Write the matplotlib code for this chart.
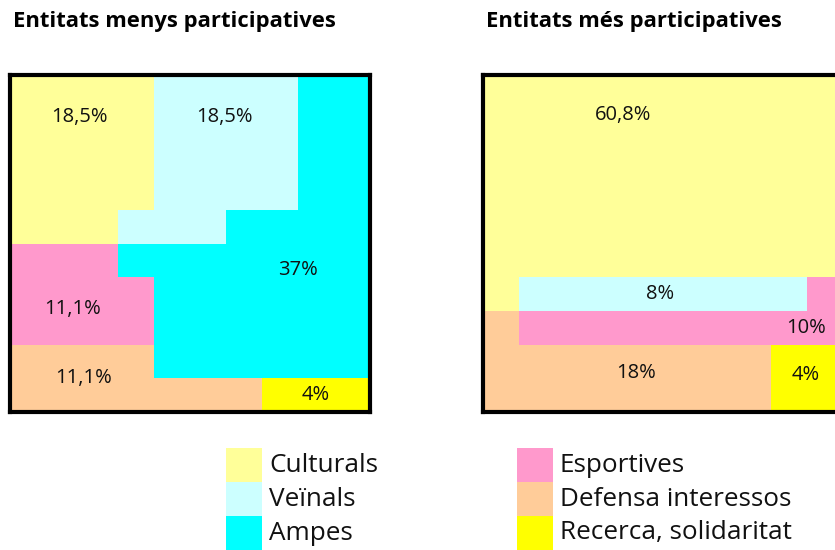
import numpy as np
import matplotlib
matplotlib.use("Agg")
import matplotlib.pyplot as plt
from matplotlib.colors import ListedColormap
from matplotlib.patches import Rectangle

# categories (code, legend label, colour)
codes = ["C", "V", "A", "E", "D", "R"]
labels = ["Culturals", "Veïnals", "Ampes",
          "Esportives", "Defensa interessos", "Recerca, solidaritat"]
colors = ["#FFFF99", "#CCFFFF", "#00FFFF", "#FF99CC", "#FFCC99", "#FFFF00"]

# 10x10 grid, one letter per cell, top row first
grid_menys = [
    "CCCCVVVVAA",
    "CCCCVVVVAA",
    "CCCCVVVVAA",
    "CCCCVVVVAA",
    "CCCVVVAAAA",
    "EEEAAAAAAA",
    "EEEEAAAAAA",
    "EEEEAAAAAA",
    "DDDDAAAAAA",
    "DDDDDDDRRR",
]
grid_mes = [
    "CCCCCCCCCC",
    "CCCCCCCCCC",
    "CCCCCCCCCC",
    "CCCCCCCCCC",
    "CCCCCCCCCC",
    "CCCCCCCCCC",
    "CVVVVVVVVE",
    "DEEEEEEEEE",
    "DDDDDDDDRR",
    "DDDDDDDDRR",
]

# percentage labels and where they sit (grid units)
pct_menys = ["18,5%", "18,5%", "37%", "11,1%", "11,1%", "4%"]
pos_menys = [(1.94, 1.25), (5.97, 1.25), (8.0, 5.8), (1.75, 6.95), (2.03, 9.0), (8.5, 9.5)]
pct_mes = ["60,8%", "8%", "10%", "18%", "4%"]
pos_mes = [(3.89, 1.18), (4.93, 6.5), (8.97, 7.5), (4.25, 8.85), (8.97, 8.9)]

titles = ["Entitats menys participatives", "Entitats més participatives"]

FONT = ["Open Sans", "DejaVu Sans"]
W, H = 835, 550

fig = plt.figure(figsize=(W / 100, H / 100), dpi=100)
cmap = ListedColormap(colors)


def to_idx(grid):
    return np.array([[codes.index(ch) for ch in row] for row in grid])


def draw_grid(x0, grid, pcts, poss, title):
    ax = fig.add_axes([x0 / W, (H - 412) / H, 360 / W, 337 / H])
    ax.pcolormesh(np.arange(11), np.arange(11), to_idx(grid), cmap=cmap,
                  vmin=-0.5, vmax=len(codes) - 0.5)
    ax.set_xlim(0, 10)
    ax.set_ylim(10, 0)
    ax.set_xticks([])
    ax.set_yticks([])
    for sp in ax.spines.values():
        sp.set_linewidth(3.0)
        sp.set_color("black")
    for txt, (x, y) in zip(pcts, poss):
        ax.text(x, y, txt, ha="center", va="center", fontsize=14.5,
                family=FONT, color="#111111")
    fig.text((x0 + 3) / W, 1 - 22 / H, title, ha="left", va="center",
             fontsize=15.8, fontweight="bold", family=FONT)
    return ax


draw_grid(10, grid_menys, pct_menys, pos_menys, titles[0])
draw_grid(483, grid_mes, pct_mes, pos_mes, titles[1])

# legend: two columns of three colour squares
leg = fig.add_axes([0, 0, 1, 1])
leg.set_xlim(0, W)
leg.set_ylim(H, 0)
leg.axis("off")
leg.patch.set_alpha(0)
col_x = [226, 517]
for i, (lab, col) in enumerate(zip(labels, colors)):
    cx = col_x[i // 3]
    cy = 448 + (i % 3) * 34
    leg.add_patch(Rectangle((cx, cy), 36, 34, facecolor=col, edgecolor="none"))
    leg.text(cx + 43, cy + 17, lab, ha="left", va="center", fontsize=18.8,
             family=FONT, color="#111111")

fig.savefig("out.png", dpi=100)
